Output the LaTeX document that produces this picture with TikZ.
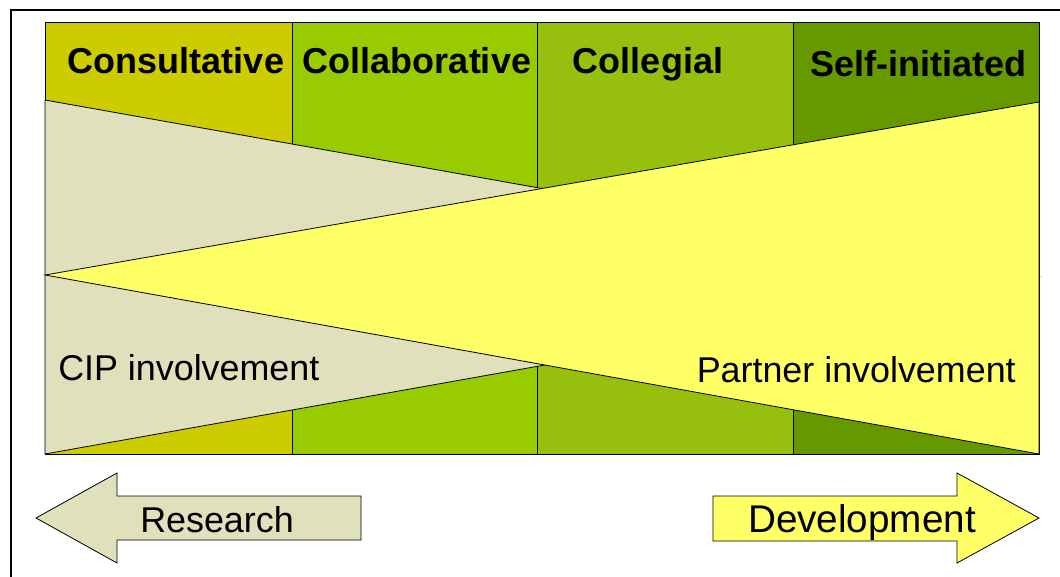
\documentclass[tikz,border=0pt]{standalone}
\usepackage{fontspec}
\setmainfont{Liberation Sans}
\definecolor{consult}{RGB}{204,204,0}
\definecolor{collab}{RGB}{153,204,0}
\definecolor{colleg}{RGB}{151,192,14}
\definecolor{selfin}{RGB}{102,153,0}
\definecolor{cipbeige}{RGB}{224,224,188}
\definecolor{partyellow}{RGB}{255,255,102}
\tikzset{
  headlabel/.style={anchor=base, inner sep=0pt, font=\fontsize{27}{30}\selectfont\bfseries},
  bodylabel/.style={anchor=base, inner sep=0pt, font=\fontsize{26.9}{30}\selectfont},
  band/.style={draw=black, line width=0.6pt}
}
\begin{document}
\begin{tikzpicture}[x=0.75pt,y=-0.75pt]
\clip (0,0) rectangle (1060,576);
\draw[line width=1.1pt] (11,10) rectangle (1080,600);
% phases
\foreach \xa/\xb/\col in {45/292/consult,292/537/collab,537/793/colleg,793/1039/selfin}{
    \draw[band, fill=\col] (\xa,22) rectangle (\xb,454);
}
% involvement wedges
\draw[band, fill=cipbeige] (45,100) -- (1039,277) -- (45,454) -- cycle;
\draw[band, fill=partyellow] (1039,102) -- (45,275) -- (1039,454) -- cycle;
\node[headlabel] (consultative) at (176,73) {Consultative};
\node[headlabel] (collaborative) at (417,73) {Collaborative};
\node[headlabel] (collegial) at (648,73) {Collegial};
\node[headlabel] (selfinit) at (918,76) {Self-initiated};
\node[bodylabel, anchor=base west] (cip) at (58,380) {CIP involvement};
\node[bodylabel, anchor=base east] (partner) at (1016,382) {Partner involvement};
% direction arrows
\draw[band, fill=cipbeige] (36,518) -- (117,473) -- (117,496) -- (361,496)
    -- (361,540) -- (117,540) -- (117,563) -- cycle;
\draw[band, fill=partyellow] (1039,518) -- (957,473) -- (957,496) -- (713,496)
    -- (713,541) -- (957,541) -- (957,563) -- cycle;
\node[bodylabel] (research) at (217,532) {Research};
\node[bodylabel, font=\fontsize{29}{32}\selectfont] (development) at (862,532) {Development};
\end{tikzpicture}
\end{document}
